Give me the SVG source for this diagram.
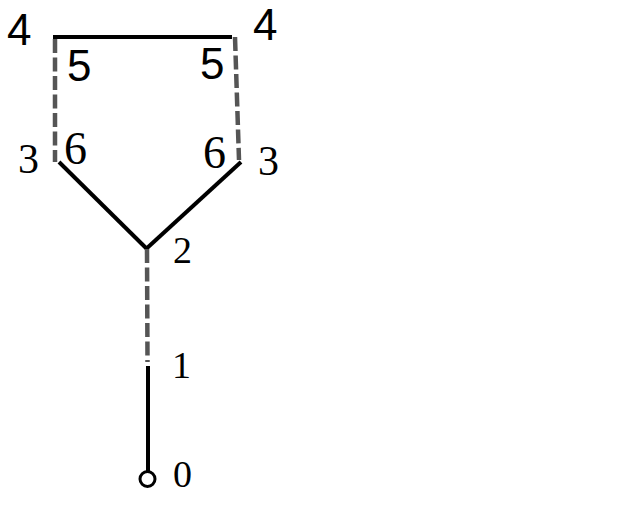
<svg xmlns="http://www.w3.org/2000/svg" width="640" height="512" viewBox="0 0 640 512">
<style>
.solid{stroke:#000;stroke-width:4;fill:none}
.dash{stroke:#555;stroke-width:4.5;fill:none;stroke-dasharray:14 4.5}
.sans{font-family:"Liberation Sans",Arial,sans-serif;font-size:44px;fill:#000}
.serif{font-family:"Liberation Serif","Times New Roman",serif;fill:#000}
</style>
<rect width="640" height="512" fill="#fff"/>
<g id="connectors">
<line class="solid" x1="53" y1="37" x2="232" y2="37"/>
<line class="dash" x1="55" y1="39" x2="55" y2="162"/>
<line class="dash" x1="235" y1="37" x2="239" y2="160"/>
<line class="solid" x1="59" y1="162" x2="147" y2="249"/>
<line class="solid" x1="241" y1="162" x2="146" y2="249"/>
<line class="dash" x1="147" y1="249" x2="147.5" y2="362"/>
<line class="solid" x1="148" y1="366" x2="148" y2="471"/>
</g>
<g id="n4a"><text class="sans" x="7" y="45">4</text></g>
<g id="n4b"><text class="sans" x="253" y="40">4</text></g>
<g id="n5a"><text class="sans" x="67" y="81">5</text></g>
<g id="n5b"><text class="sans" x="200" y="79">5</text></g>
<g id="n3a"><text class="serif" font-size="42" x="18" y="173">3</text></g>
<g id="n6a"><text class="serif" font-size="46" x="64" y="164">6</text></g>
<g id="n6b"><text class="serif" font-size="46" x="203" y="168">6</text></g>
<g id="n3b"><text class="serif" font-size="42" x="258" y="175">3</text></g>
<g id="n2"><text class="serif" font-size="38" x="173" y="263">2</text></g>
<g id="n1"><text class="serif" font-size="38" x="172" y="378">1</text></g>
<g id="n0">
<circle cx="147.5" cy="479" r="7.5" fill="#fff" stroke="#000" stroke-width="3"/>
<text class="serif" font-size="38" x="173" y="487">0</text>
</g>
</svg>
